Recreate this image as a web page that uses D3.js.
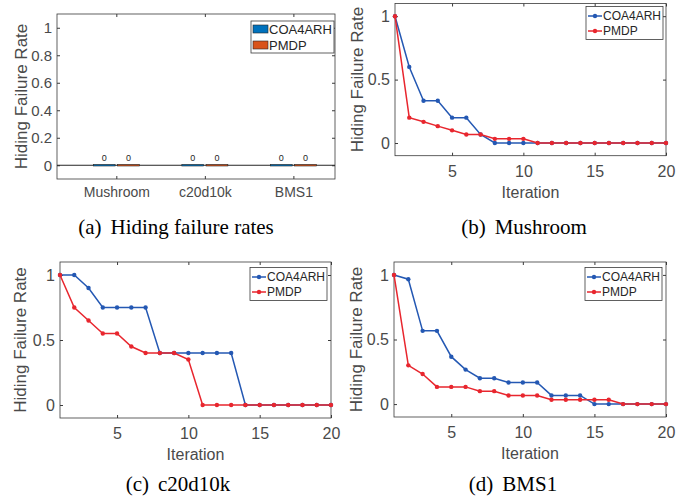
<!DOCTYPE html>
<html lang="en">
<head>
<meta charset="utf-8">
<title>Hiding failure rate</title>
<script src="https://d3js.org/d3.v7.min.js"></script>
<style>
  body { margin: 0; background: #fff; }
  svg text { font-family: "Liberation Sans", Arial, sans-serif; }
  .cap { font-family: "Liberation Serif", "Times New Roman", serif !important; }
</style>
</head>
<body>
<div id="chart"></div>
<script>
// ---- data ----
const datasets = ["Mushroom", "c20d10k", "BMS1"];
const methods = ["COA4ARH", "PMDP"];
const finalCOA4ARH = [0, 0, 0];
const finalPMDP = [0, 0, 0];

const iterations = [1, 2, 3, 4, 5, 6, 7, 8, 9, 10, 11, 12, 13, 14, 15, 16, 17, 18, 19, 20];

const mushroomCOA4ARH = [1, 0.6, 0.333, 0.333, 0.2, 0.2, 0.067, 0, 0, 0, 0, 0, 0, 0, 0, 0, 0, 0, 0, 0];
const mushroomPMDP    = [1, 0.2, 0.167, 0.133, 0.1, 0.067, 0.067, 0.033, 0.033, 0.033, 0, 0, 0, 0, 0, 0, 0, 0, 0, 0];

const c20COA4ARH = [1, 1, 0.9, 0.75, 0.75, 0.75, 0.75, 0.4, 0.4, 0.4, 0.4, 0.4, 0.4, 0, 0, 0, 0, 0, 0, 0];
const c20PMDP    = [1, 0.75, 0.65, 0.55, 0.55, 0.45, 0.4, 0.4, 0.4, 0.35, 0, 0, 0, 0, 0, 0, 0, 0, 0, 0];

const bmsCOA4ARH = [1, 0.967, 0.567, 0.567, 0.367, 0.267, 0.2, 0.2, 0.167, 0.167, 0.167, 0.067, 0.067, 0.067, 0, 0, 0, 0, 0, 0];
const bmsPMDP    = [1, 0.3, 0.233, 0.133, 0.133, 0.133, 0.1, 0.1, 0.067, 0.067, 0.067, 0.033, 0.033, 0.033, 0.033, 0.033, 0, 0, 0, 0];

const barYTicks = [0, 0.2, 0.4, 0.6, 0.8, 1];
const lineYTicks = [0, 0.5, 1];
const lineXTicks = [5, 10, 15, 20];
const yDomain = [-0.1, 1.1];

// ---- styling ----
const axisColor = "#3a3a3a";
const textColor = "#4a4a4a";
const barColors = ["#0072BD", "#D95319"];
const lineColors = ["#2458b3", "#e8262e"];

const svg = d3.select("#chart").append("svg")
    .attr("width", 699)
    .attr("height", 503);

// draw a boxed axes with inward ticks on all four sides
function drawFrame(box, x, y, xTicks, yTicks, opts) {
    let bottom = d3.axisBottom(x).tickSizeInner(-3).tickSizeOuter(0).tickPadding(opts.xPad);
    if (xTicks) bottom.tickValues(xTicks);
    let gb = svg.append("g").attr("class", "xbottom").attr("transform", "translate(0," + box.bottom + ")").call(bottom);
    gb.selectAll("text").style("font-size", opts.xFont + "px");

    let top = d3.axisTop(x).tickSizeInner(-3).tickSizeOuter(0).tickFormat(() => "");
    if (xTicks) top.tickValues(xTicks);
    svg.append("g").attr("transform", "translate(0," + box.top + ")").call(top);

    let left = d3.axisLeft(y).tickValues(yTicks).tickFormat(d3.format("~g"))
        .tickSizeInner(-3).tickSizeOuter(0).tickPadding(5);
    let gl = svg.append("g").attr("transform", "translate(" + box.left + ",0)").call(left);
    gl.selectAll("text").style("font-size", opts.yFont + "px");

    let right = d3.axisRight(y).tickValues(yTicks).tickFormat(() => "")
        .tickSizeInner(-3).tickSizeOuter(0);
    svg.append("g").attr("transform", "translate(" + box.right + ",0)").call(right);

    svg.selectAll(".domain").remove();
    svg.selectAll(".tick line").attr("stroke", axisColor);
    svg.selectAll(".tick text").attr("fill", textColor);

    svg.append("rect")
        .attr("x", box.left).attr("y", box.top)
        .attr("width", box.right - box.left)
        .attr("height", box.bottom - box.top)
        .attr("fill", "none")
        .attr("stroke", axisColor)
        .attr("stroke-width", 0.8);

    // y label
    svg.append("text")
        .attr("transform", "translate(" + opts.yLabelX + "," + (box.top + box.bottom) / 2 + ") rotate(-90)")
        .attr("text-anchor", "middle")
        .attr("dy", "0.35em")
        .attr("fill", textColor)
        .style("font-size", "17px")
        .text("Hiding Failure Rate");
    return gb;
}

function caption(txtLabel, txtName, cx, baseline) {
    let t = svg.append("text")
        .attr("class", "cap")
        .attr("x", cx).attr("y", baseline)
        .attr("text-anchor", "middle")
        .attr("fill", "#000")
        .style("font-size", "21px");
    t.append("tspan").text(txtLabel);
    t.append("tspan").attr("dx", 9).text(txtName);
}

// ---- (a) bar chart ----
(function() {
    let box = {left: 57, right: 335, top: 14, bottom: 179};
    let x = d3.scaleLinear().domain([0.33, 3.47]).range([box.left, box.right]);
    let y = d3.scaleLinear().domain(yDomain).range([box.bottom, box.top]);
    let xCat = d3.scaleOrdinal().domain(datasets).range([1, 2, 3]);
    let inner = d3.scaleBand().domain(methods).range([-0.26, 0.26]).paddingInner(0.1);

    let gb = drawFrame(box, x, y, [1, 2, 3], barYTicks,
        {xPad: 8, xFont: 14, yFont: 15, yLabelX: 21});
    // category names on x ticks
    gb.selectAll(".tick text").text((d) => datasets[d - 1]);

    // zero line
    svg.append("line")
        .attr("x1", box.left).attr("x2", box.right)
        .attr("y1", y(0)).attr("y2", y(0))
        .attr("stroke", "#262626").attr("stroke-width", 1);

    let values = [finalCOA4ARH, finalPMDP];
    methods.forEach(function(m, mi) {
        let g = svg.append("g");
        g.selectAll("rect")
            .data(datasets)
            .enter()
            .append("rect")
            .attr("x", (d) => x(xCat(d) + inner(m)))
            .attr("width", (d) => x(xCat(d) + inner(m) + inner.bandwidth()) - x(xCat(d) + inner(m)))
            .attr("y", (d, i) => y(Math.max(values[mi][i], 0)) - 0.75)
            .attr("height", (d, i) => Math.abs(y(values[mi][i]) - y(0)) + 1.5)
            .attr("fill", barColors[mi])
            .attr("stroke", "#262626")
            .attr("stroke-width", 0.6);
        g.selectAll("text")
            .data(datasets)
            .enter()
            .append("text")
            .attr("x", (d) => x(xCat(d) + inner(m) + inner.bandwidth() / 2))
            .attr("y", (d, i) => y(values[mi][i]) - 4)
            .attr("text-anchor", "middle")
            .attr("fill", "#262626")
            .style("font-size", "9px")
            .text((d, i) => d3.format("~g")(values[mi][i]));
    });

    // legend
    let lg = svg.append("g").attr("transform", "translate(251,21)");
    lg.append("rect").attr("width", 83).attr("height", 32)
        .attr("fill", "#fff").attr("stroke", axisColor).attr("stroke-width", 0.8);
    methods.forEach(function(m, i) {
        let row = lg.append("g").attr("transform", "translate(0," + (8 + i * 16) + ")");
        row.append("rect").attr("x", 2).attr("y", -4).attr("width", 15).attr("height", 8)
            .attr("fill", barColors[i]).attr("stroke", "#262626").attr("stroke-width", 0.6);
        row.append("text").attr("x", 18).attr("dy", "0.35em")
            .attr("fill", "#262626").style("font-size", "13px").text(m);
    });

    caption("(a)", "Hiding failure rates", 176, 234);
})();

// ---- (b)-(d) line charts ----
function linePanel(box, coa, pmdp, legendPos, yLabelX, capLabel, capName, capX, capY) {
    let x = d3.scaleLinear().domain([1, 20]).range([box.left, box.right]);
    let y = d3.scaleLinear().domain(yDomain).range([box.bottom, box.top]);

    drawFrame(box, x, y, lineXTicks, lineYTicks,
        {xPad: 10, xFont: 16, yFont: 16, yLabelX: yLabelX});

    svg.append("text")
        .attr("x", (box.left + box.right) / 2)
        .attr("y", box.bottom + 42)
        .attr("text-anchor", "middle")
        .attr("fill", textColor)
        .style("font-size", "16px")
        .text("Iteration");

    let line = d3.line()
        .x((d) => x(d.it))
        .y((d) => y(d.v));

    [coa, pmdp].forEach(function(vals, si) {
        let pts = iterations.map((it, i) => ({it: it, v: vals[i]}));
        svg.append("path")
            .datum(pts)
            .attr("d", line)
            .attr("fill", "none")
            .attr("stroke", lineColors[si])
            .attr("stroke-width", 1.5);
        svg.append("g").selectAll("circle")
            .data(pts)
            .enter()
            .append("circle")
            .attr("cx", (d) => x(d.it))
            .attr("cy", (d) => y(d.v))
            .attr("r", 2.2)
            .attr("fill", lineColors[si]);
    });

    let lg = svg.append("g").attr("transform", "translate(" + legendPos[0] + "," + legendPos[1] + ")");
    lg.append("rect").attr("width", 77).attr("height", 33)
        .attr("fill", "#fff").attr("stroke", axisColor).attr("stroke-width", 0.8);
    methods.forEach(function(m, i) {
        let row = lg.append("g").attr("transform", "translate(0," + (9.5 + i * 15) + ")");
        row.append("line").attr("x1", 2).attr("x2", 16).attr("stroke", lineColors[i]).attr("stroke-width", 1.5);
        row.append("circle").attr("cx", 9).attr("r", 2.2).attr("fill", lineColors[i]);
        row.append("text").attr("x", 17).attr("dy", "0.35em")
            .attr("fill", "#262626").style("font-size", "12px").text(m);
    });

    caption(capLabel, capName, capX, capY);
}

linePanel({left: 395, right: 666, top: 3.5, bottom: 155.7}, mushroomCOA4ARH, mushroomPMDP,
    [586, 6.5], 357, "(b)", "Mushroom", 524, 234);
linePanel({left: 60, right: 331, top: 262, bottom: 418}, c20COA4ARH, c20PMDP,
    [250, 267.5], 20, "(c)", "c20d10k", 178, 491);
linePanel({left: 394, right: 666, top: 262, bottom: 417}, bmsCOA4ARH, bmsPMDP,
    [585, 267.5], 356, "(d)", "BMS1", 513, 491);
</script>
</body>
</html>
